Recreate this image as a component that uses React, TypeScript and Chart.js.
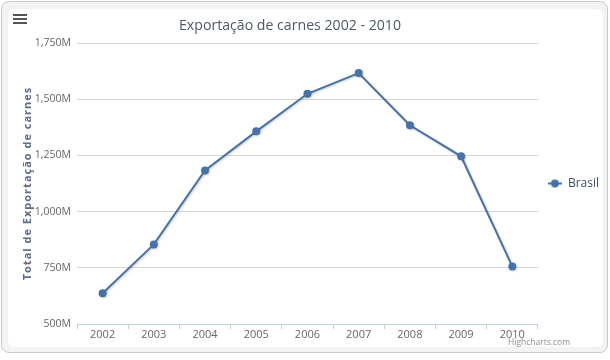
import React, { useEffect, useRef } from "react";
import { Chart, registerables } from "chart.js";

Chart.register(...registerables);

const categories = ["2002", "2003", "2004", "2005", "2006", "2007", "2008", "2009", "2010"];
const brasilValues = [637, 854, 1183, 1357, 1524, 1616, 1384, 1246, 756];
const yTickValues = [500, 750, 1000, 1250, 1500, 1750];
const seriesName = "Brasil";
const chartTitle = "Exportação de carnes 2002 - 2010";
const yAxisTitle = "Total de Exportação de carnes";
const creditText = "Highcharts.com";

const LINE_COLOR = "#4572A7";

export default function App() {
  const canvasRef = useRef<HTMLCanvasElement | null>(null);

  useEffect(() => {
    const canvas = canvasRef.current;
    if (!canvas) return;

    // legend symbol: line with circle marker
    const sym = document.createElement("canvas");
    sym.width = 14;
    sym.height = 10;
    const sctx = sym.getContext("2d")!;
    sctx.strokeStyle = LINE_COLOR;
    sctx.lineWidth = 2;
    sctx.beginPath();
    sctx.moveTo(0, 5);
    sctx.lineTo(14, 5);
    sctx.stroke();
    sctx.fillStyle = LINE_COLOR;
    sctx.beginPath();
    sctx.arc(7, 5, 4, 0, Math.PI * 2);
    sctx.fill();

    const textPlugin = {
      id: "customTexts",
      afterDraw(chart: any) {
        const ctx = chart.ctx;
        ctx.save();
        ctx.font = "15px 'Open Sans'";
        ctx.fillStyle = "#4d5966";
        ctx.textAlign = "center";
        ctx.textBaseline = "middle";
        ctx.fillText(chartTitle, 290, 26, 222);
        ctx.restore();

        // y axis title (letter-spaced, rotated)
        const area = chart.chartArea;
        ctx.save();
        ctx.translate(28, (area.top + area.bottom) / 2);
        ctx.rotate(-Math.PI / 2);
        (ctx as any).letterSpacing = "1px";
        ctx.font = "bold 11px 'Open Sans'";
        ctx.fillStyle = "#5b6d8a";
        ctx.textAlign = "center";
        ctx.textBaseline = "middle";
        ctx.fillText(yAxisTitle, 0, 0);
        ctx.restore();
      },
    };

    const shadowPlugin = {
      id: "lineShadow",
      beforeDatasetsDraw(chart: any) {
        const ctx = chart.ctx;
        ctx.save();
        ctx.shadowColor = "rgba(0,0,0,0.18)";
        ctx.shadowOffsetX = 1;
        ctx.shadowOffsetY = 1;
        ctx.shadowBlur = 2;
      },
      afterDatasetsDraw(chart: any) {
        chart.ctx.restore();
      },
    };

    const chart = new Chart(canvas, {
      type: "line",
      data: {
        labels: categories,
        datasets: [
          {
            label: seriesName,
            data: brasilValues,
            borderColor: LINE_COLOR,
            backgroundColor: LINE_COLOR,
            borderWidth: 2,
            pointRadius: 4,
            pointBorderWidth: 0,
            pointBackgroundColor: LINE_COLOR,
            tension: 0,
          },
        ],
      },
      options: {
        animation: false,
        responsive: false,
        devicePixelRatio: 1,
        layout: { padding: { top: 43, left: 0, right: 1, bottom: 16 } },
        plugins: {
          title: { display: false },
          tooltip: { enabled: false },
          legend: {
            display: true,
            position: "right",
            fullSize: false,
            labels: {
              usePointStyle: true,
              pointStyle: sym as any,
              pointStyleWidth: 14,
              color: "#3d4e66",
              font: { family: "'Open Sans'", size: 12 },
              padding: 10,
            },
          },
        },
        scales: {
          x: {
            type: "category",
            offset: true,
            grid: {
              display: true,
              drawOnChartArea: false,
              drawTicks: true,
              tickLength: 5,
              offset: true,
              color: "#C0D0E0",
            },
            border: { display: true, color: "#C0D0E0", width: 1 },
            ticks: {
              color: "#666666",
              font: { family: "'Open Sans'", size: 11 },
              padding: -1,
              maxRotation: 0,
              autoSkip: false,
            },
            afterFit(scale: any) {
              scale.height = 20;
            },
          },
          y: {
            min: 500,
            max: 1750,
            afterBuildTicks(scale: any) {
              scale.ticks = yTickValues.map((v) => ({ value: v }));
            },
            grid: {
              color: "#d6d6d6",
              drawTicks: false,
              lineWidth: 1,
            },
            border: { display: false },
            ticks: {
              color: "#666666",
              font: { family: "'Open Sans'", size: 10.5 },
              padding: 6,
              callback: (v: any) => Number(v).toLocaleString("en-US") + "M",
            },
            title: { display: false },
            afterFit(scale: any) {
              scale.width = 77;
            },
          },
        },
      },
      plugins: [textPlugin, shadowPlugin],
    });

    return () => chart.destroy();
  }, []);

  return (
    <div
      style={{
        position: "fixed",
        left: 0,
        top: 0,
        width: 610,
        height: 360,
        background: "#ffffff",
        overflow: "hidden",
      }}
    >
      <div
        style={{
          position: "absolute",
          left: 1,
          top: 1,
          width: 607,
          height: 352,
          boxSizing: "border-box",
          border: "1px solid #cacaca",
          borderRadius: 8,
          background: "#f3f3f3",
        }}
      />
      <div
        style={{
          position: "absolute",
          left: 8,
          top: 9,
          width: 595,
          height: 338,
          borderRadius: 6,
          background: "#ffffff",
        }}
      />
      {[14, 18, 22].map((t) => (
        <div
          key={t}
          style={{
            position: "absolute",
            left: 13,
            top: t,
            width: 14,
            height: 2,
            background: "#555555",
          }}
        />
      ))}
      <canvas
        ref={canvasRef}
        width={610}
        height={360}
        style={{ position: "absolute", left: 0, top: 0, width: 610, height: 360 }}
      />
      <div
        style={{
          position: "absolute",
          left: 508,
          top: 336,
          fontFamily: "'Open Sans', sans-serif",
          fontSize: 8.5,
          color: "#909090",
          whiteSpace: "nowrap",
        }}
      >
        {creditText}
      </div>
    </div>
  );
}
